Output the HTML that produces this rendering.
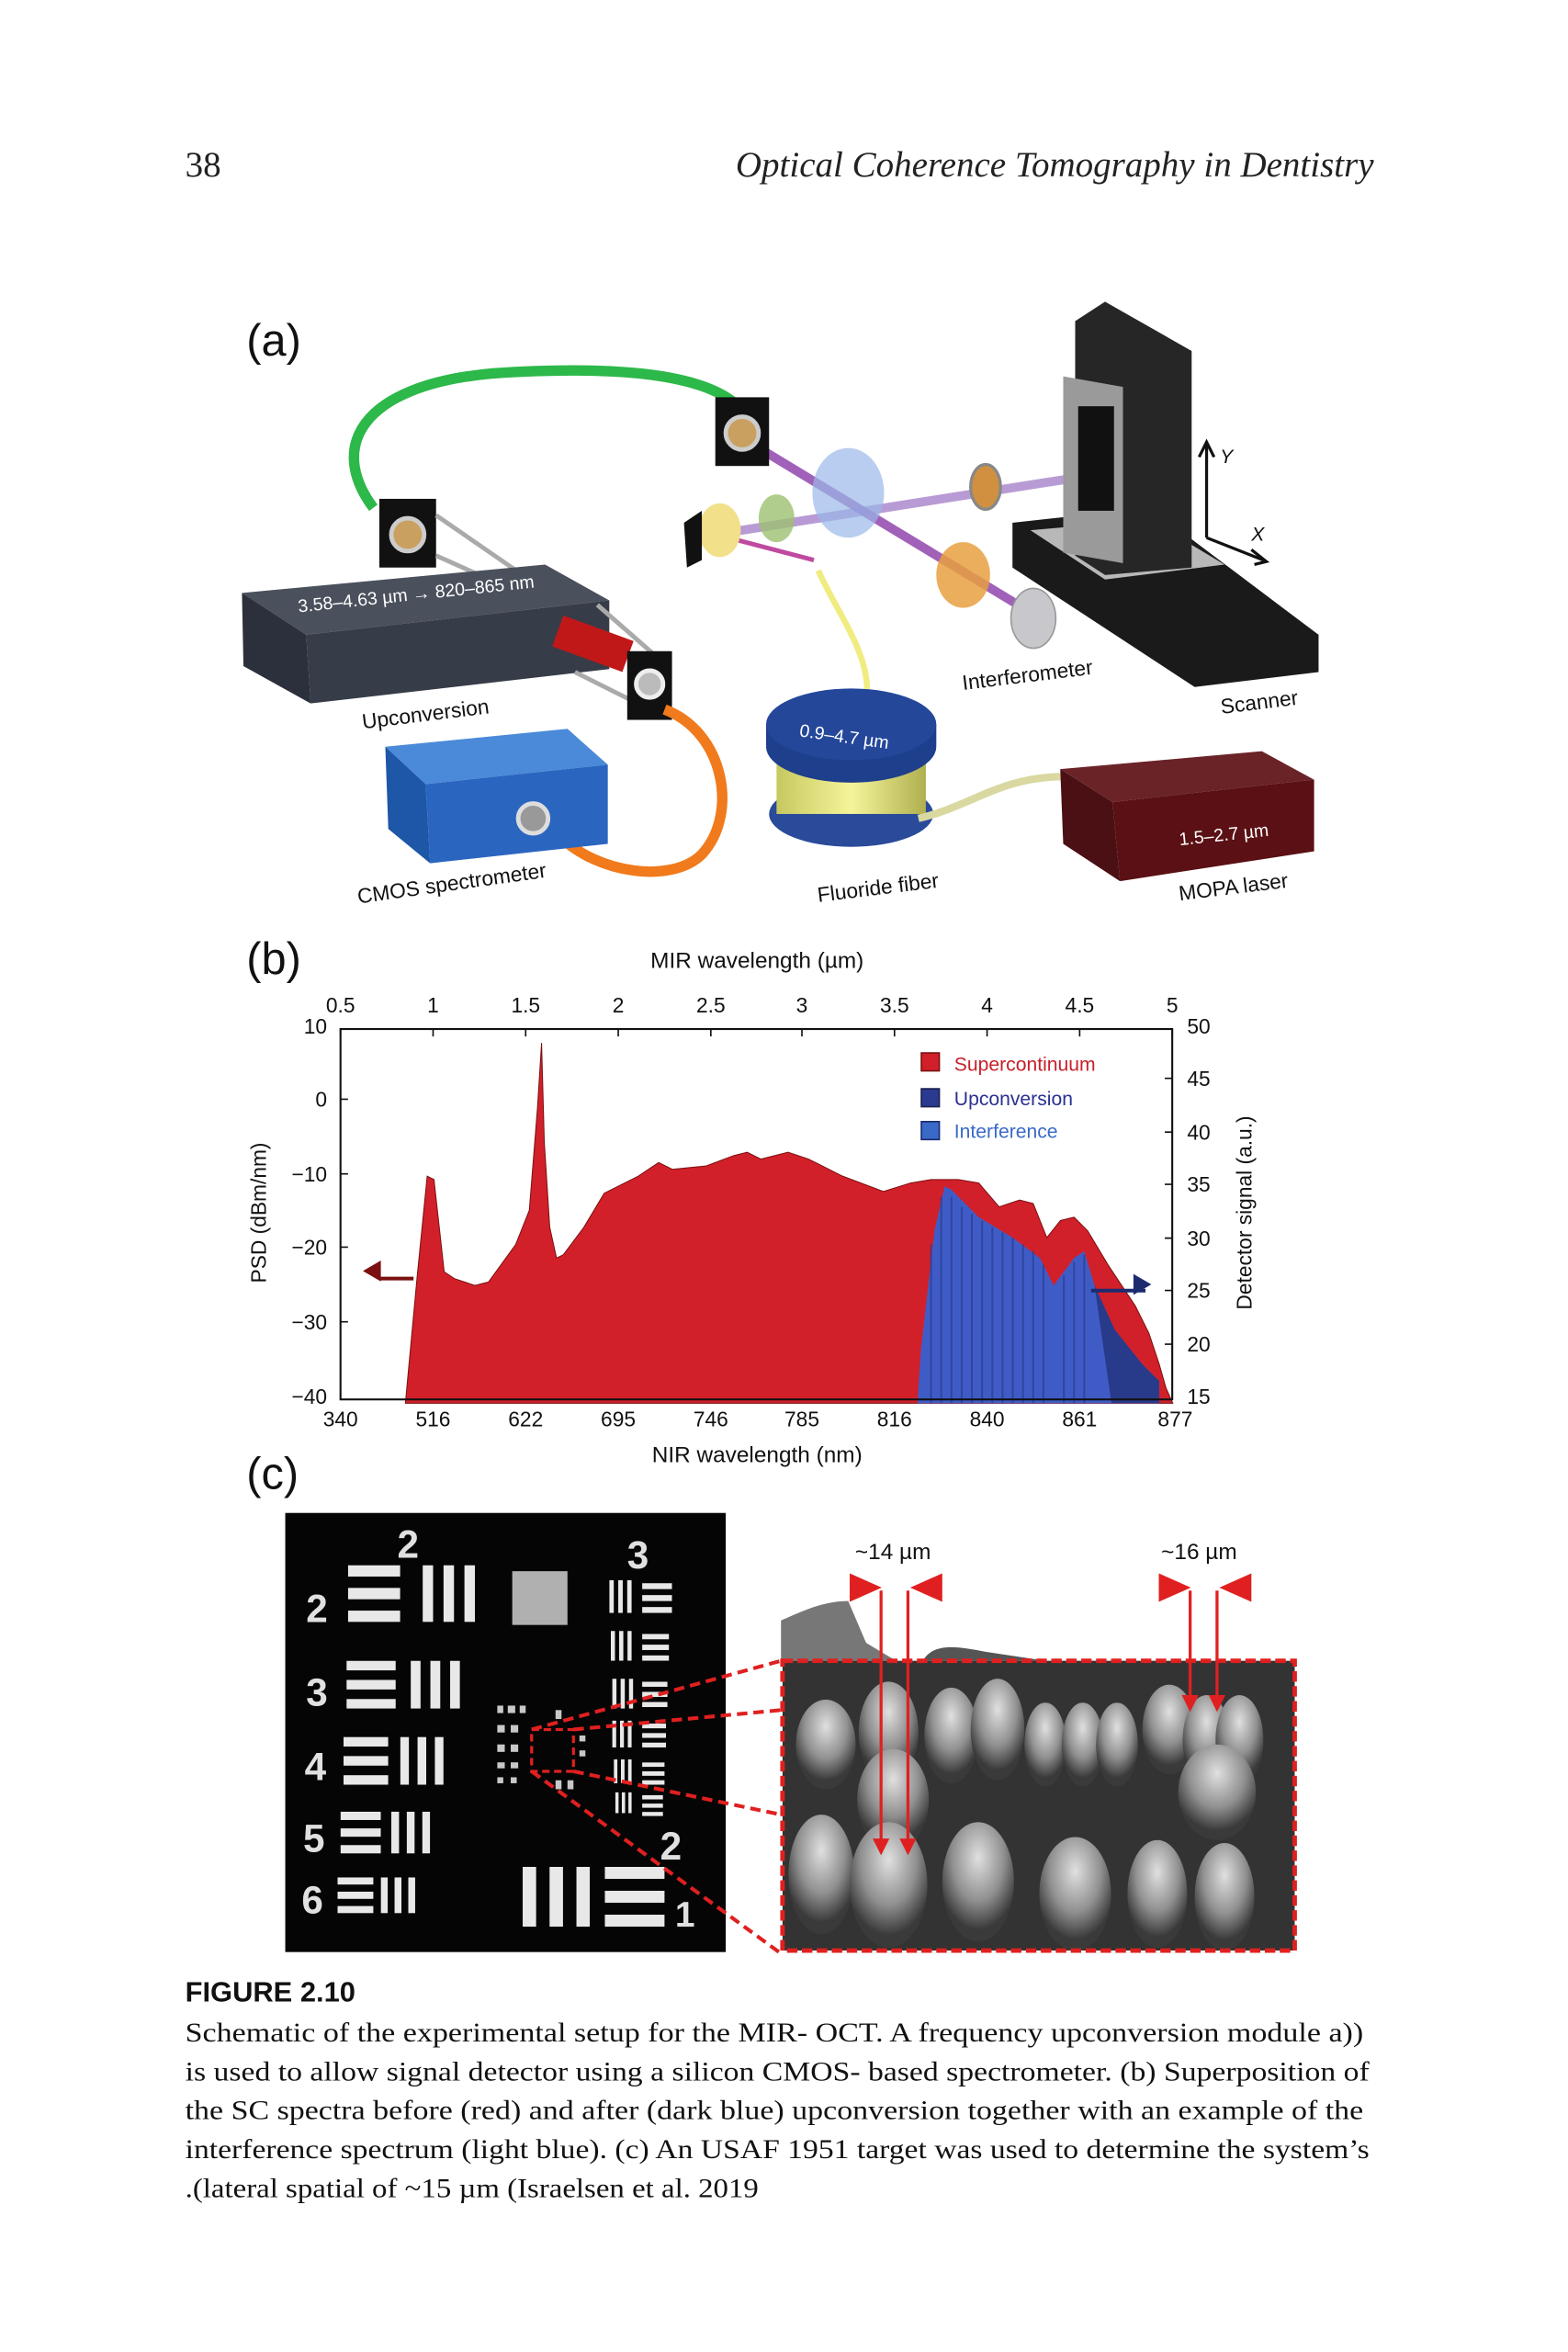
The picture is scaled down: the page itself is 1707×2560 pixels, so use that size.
<!DOCTYPE html>
<html><head><meta charset="utf-8"><style>html,body{margin:0;padding:0;background:#fff}svg{display:block}</style></head>
<body>
<svg width="1707" height="2560" viewBox="0 0 1050 1574.8" xmlns="http://www.w3.org/2000/svg" font-family="Liberation Sans, sans-serif">
<defs>
<symbol id="hb" viewBox="0 0 10 10" preserveAspectRatio="none"><rect x="0" y="0" width="10" height="2" fill="#e8e8e8"/><rect x="0" y="4" width="10" height="2" fill="#e8e8e8"/><rect x="0" y="8" width="10" height="2" fill="#e8e8e8"/></symbol>
<symbol id="vb" viewBox="0 0 10 10" preserveAspectRatio="none"><rect x="0" y="0" width="2" height="10" fill="#e8e8e8"/><rect x="4" y="0" width="2" height="10" fill="#e8e8e8"/><rect x="8" y="0" width="2" height="10" fill="#e8e8e8"/></symbol>
<radialGradient id="bump" cx="0.5" cy="0.3" r="0.6"><stop offset="0" stop-color="#e0e0e0"/><stop offset="0.6" stop-color="#909090"/><stop offset="1" stop-color="#3a3a3a"/></radialGradient>
<linearGradient id="spool" x1="0" x2="1"><stop offset="0" stop-color="#c8c860"/><stop offset="0.5" stop-color="#f4f49a"/><stop offset="1" stop-color="#b0b050"/></linearGradient>
</defs>

<text x="124" y="118" font-family="Liberation Serif, serif" font-size="24" fill="#222">38</text>
<text x="920" y="118" text-anchor="end" font-family="Liberation Serif, serif" font-style="italic" font-size="24" fill="#222">Optical Coherence Tomography in Dentistry</text>

<text x="165" y="238" font-size="30" fill="#111">(a)</text>
<path d="M250,340 C220,300 240,258 330,250 C420,244 470,252 492,270" fill="none" stroke="#2db84a" stroke-width="7"/>
<path d="M495,292 L690,410" stroke="#8a3aa8" stroke-width="6" opacity="0.8"/>
<path d="M478,358 L720,320" stroke="#8a5ab8" stroke-width="6" opacity="0.6"/>
<path d="M480,358 L545,375" stroke="#c04aa0" stroke-width="3"/>
<ellipse cx="568" cy="330" rx="24" ry="30" fill="#9ab8e8" opacity="0.7"/>
<ellipse cx="520" cy="347" rx="12" ry="16" fill="#9cc070" opacity="0.8"/>
<ellipse cx="482" cy="355" rx="14" ry="18" fill="#f2e08a"/>
<path d="M458,350 L470,342 L470,375 L460,380 Z" fill="#111"/>
<ellipse cx="645" cy="385" rx="18" ry="22" fill="#e8a040" opacity="0.85"/>
<ellipse cx="660" cy="326" rx="10" ry="15" fill="#d09040" stroke="#888" stroke-width="2"/>
<ellipse cx="692" cy="414" rx="15" ry="20" fill="#c8c8cc" stroke="#999"/>
<rect x="479" y="266" width="36" height="46" fill="#111"/><circle cx="497" cy="290" r="11" fill="#c9a060" stroke="#ccc" stroke-width="3"/>
<rect x="254" y="334" width="38" height="46" fill="#111"/><circle cx="273" cy="358" r="11" fill="#c9a060" stroke="#ccc" stroke-width="3"/>
<line x1="292" y1="345" x2="350" y2="385" stroke="#aaa" stroke-width="3"/><line x1="292" y1="372" x2="350" y2="398" stroke="#aaa" stroke-width="3"/>
<polygon points="162,397 365,378 408,402 205,425" fill="#4a505c"/>
<polygon points="205,425 408,402 408,448 208,471" fill="#363c48"/>
<polygon points="162,397 205,425 208,471 163,446" fill="#2b303c"/>
<text x="200" y="410" font-size="12" fill="#fff" transform="rotate(-6 200 410)">3.58–4.63 µm → 820–865 nm</text>
<rect x="372" y="420" width="50" height="22" fill="#c01818" transform="rotate(20 397 431)"/>
<line x1="400" y1="405" x2="440" y2="440" stroke="#aaa" stroke-width="3"/><line x1="385" y1="450" x2="425" y2="470" stroke="#aaa" stroke-width="3"/>
<rect x="420" y="436" width="30" height="46" fill="#111"/><circle cx="435" cy="458" r="9" fill="#bbb" stroke="#eee" stroke-width="3"/>
<text x="243" y="488" font-size="14" fill="#111" transform="rotate(-7 243 488)">Upconversion</text>
<path d="M445,475 C485,490 495,545 470,572 C450,592 400,585 375,560" fill="none" stroke="#f07a1c" stroke-width="7"/>
<polygon points="258,500 380,488 407,512 285,525" fill="#4a8ad8"/>
<polygon points="285,525 407,512 407,565 288,578" fill="#2a66c0"/>
<polygon points="258,500 285,525 288,578 260,555" fill="#1e56a8"/>
<circle cx="357" cy="548" r="10" fill="#999" stroke="#ddd" stroke-width="3"/>
<text x="240" y="605" font-size="14" fill="#111" transform="rotate(-8 240 605)">CMOS spectrometer</text>
<path d="M548,382 C560,410 585,440 580,470" fill="none" stroke="#f0ec80" stroke-width="4"/>
<ellipse cx="570" cy="545" rx="55" ry="22" fill="#2a4a9a"/>
<rect x="520" y="500" width="100" height="45" fill="url(#spool)"/>
<ellipse cx="570" cy="500" rx="57" ry="24" fill="#1e3f8c"/>
<rect x="513" y="485" width="114" height="14" fill="#1e3f8c"/>
<ellipse cx="570" cy="485" rx="57" ry="24" fill="#24479a"/>
<text x="535" y="493" font-size="12" fill="#fff" transform="rotate(8 535 493)">0.9–4.7 µm</text>
<path d="M615,548 C650,540 670,520 712,520" fill="none" stroke="#d8d8a0" stroke-width="5"/>
<text x="548" y="604" font-size="14" fill="#111" transform="rotate(-7 548 604)">Fluoride fiber</text>
<polygon points="710,515 845,503 880,522 745,537" fill="#6a2428"/>
<polygon points="745,537 880,522 880,570 750,590" fill="#5a1014"/>
<polygon points="710,515 745,537 750,590 712,565" fill="#4a1014"/>
<text x="790" y="566" font-size="12" fill="#fff" transform="rotate(-6 790 566)">1.5–2.7 µm</text>
<text x="790" y="603" font-size="14" fill="#111" transform="rotate(-7 790 603)">MOPA laser</text>
<polygon points="678,350 770,340 883,425 883,450 800,460 678,380" fill="#1a1a1a"/>
<polygon points="690,355 770,348 820,378 740,388" fill="#b8b8b8"/>
<polygon points="720,215 740,202 798,235 798,380 740,385 720,372" fill="#262626"/>
<rect x="712" y="252" width="40" height="118" fill="#9a9a9a" transform="skewY(10)" transform-origin="712 252"/>
<rect x="722" y="272" width="24" height="70" fill="#111"/>
<path d="M808,360 V298 M803,306 L808,296 L813,306 M808,360 L846,375 M838,368 L848,376 L840,378" stroke="#111" stroke-width="2" fill="none"/>
<text x="817" y="310" font-size="13" font-style="italic" fill="#111">Y</text>
<text x="838" y="362" font-size="13" font-style="italic" fill="#111">X</text>
<text x="818" y="478" font-size="14" fill="#111" transform="rotate(-7 818 478)">Scanner</text>
<text x="645" y="462" font-size="14" fill="#111" transform="rotate(-7 645 462)">Interferometer</text>

<text x="165" y="652" font-size="30" fill="#111">(b)</text>
<text x="507" y="648" font-size="15" text-anchor="middle" fill="#111">MIR wavelength (µm)</text>
<g transform="translate(153.8,627.4) scale(0.456,0.2287)">
<polygon fill="#d1202a" stroke="#7a1010" stroke-width="1" vector-effect="non-scaling-stroke" points="258,1365 275,1000 290,700 300,710 315,980 330,1000 360,1020 380,1010 420,900 440,800 452,500 458,310 462,600 470,850 480,940 490,930 520,850 550,750 600,700 630,660 650,680 700,670 740,640 760,630 780,650 800,640 820,630 850,650 900,700 960,745 1000,720 1030,710 1070,710 1100,720 1130,790 1160,770 1180,780 1200,880 1220,830 1240,820 1260,860 1290,960 1330,1080 1350,1160 1365,1250 1375,1320 1385,1365"/>
<polygon fill="#3f5cc6" points="1010,1365 1015,1210 1035,860 1050,730 1060,740 1100,820 1150,880 1190,940 1210,1020 1225,980 1240,940 1255,920 1270,1020 1300,1150 1340,1250 1365,1300 1365,1365"/>
<polygon fill="#283a8a" points="1270,1020 1300,1150 1340,1250 1365,1300 1365,1365 1295,1365"/>
<path d="M1030,1365V900 M1045,1365V760 M1060,1365V760 M1075,1365V790 M1090,1365V810 M1105,1365V830 M1120,1365V850 M1135,1365V865 M1150,1365V880 M1165,1365V900 M1180,1365V920 M1195,1365V960 M1225,1365V990 M1240,1365V950 M1255,1365V930" stroke="#2a3a90" stroke-width="2" vector-effect="non-scaling-stroke" opacity="0.7"/>
<path d="M270,1000 H220" stroke="#7a1010" stroke-width="4" vector-effect="non-scaling-stroke"/>
<path d="M1265,1035 H1345" stroke="#1e2a70" stroke-width="4" vector-effect="non-scaling-stroke"/>
</g>
<polygon points="243,851 255,844 255,858" fill="#7a1010"/>
<polygon points="771,860 759,853 759,867" fill="#1e2a70"/>
<rect x="228" y="689" width="557" height="248" fill="none" stroke="#111" stroke-width="1.3"/>
<g stroke="#111" stroke-width="1">
<path d="M228,689v5M290,689v5M352,689v5M414,689v5M476,689v5M537,689v5M599,689v5M661,689v5M723,689v5M785,689v5"/>
<path d="M228,736h5M228,786h5M228,835h5M228,885h5M785,722h-5M785,758h-5M785,793h-5M785,829h-5M785,864h-5M785,900h-5"/>
</g>
<g font-size="14" fill="#111" text-anchor="middle">
<text x="228" y="678">0.5</text><text x="290" y="678">1</text><text x="352" y="678">1.5</text><text x="414" y="678">2</text><text x="476" y="678">2.5</text><text x="537" y="678">3</text><text x="599" y="678">3.5</text><text x="661" y="678">4</text><text x="723" y="678">4.5</text><text x="785" y="678">5</text>
<text x="228" y="955">340</text><text x="290" y="955">516</text><text x="352" y="955">622</text><text x="414" y="955">695</text><text x="476" y="955">746</text><text x="537" y="955">785</text><text x="599" y="955">816</text><text x="661" y="955">840</text><text x="723" y="955">861</text><text x="787" y="955">877</text>
</g>
<g font-size="14" fill="#111" text-anchor="end">
<text x="219" y="692">10</text><text x="219" y="741">0</text><text x="219" y="791">−10</text><text x="219" y="840">−20</text><text x="219" y="890">−30</text><text x="219" y="940">−40</text>
</g>
<g font-size="14" fill="#111">
<text x="795" y="692">50</text><text x="795" y="727">45</text><text x="795" y="763">40</text><text x="795" y="798">35</text><text x="795" y="834">30</text><text x="795" y="869">25</text><text x="795" y="905">20</text><text x="795" y="940">15</text>
</g>
<text transform="translate(178,812) rotate(-90)" font-size="14" text-anchor="middle" fill="#111">PSD (dBm/nm)</text>
<text transform="translate(838,812) rotate(-90)" font-size="14" text-anchor="middle" fill="#111">Detector signal (a.u.)</text>
<text x="507" y="979" font-size="15" text-anchor="middle" fill="#111">NIR wavelength (nm)</text>
<rect x="617" y="705" width="12" height="12" fill="#d1202a" stroke="#7a1010"/><text x="639" y="717" font-size="13" fill="#c8202a">Supercontinuum</text>
<rect x="617" y="729" width="12" height="12" fill="#2a3a90" stroke="#1a2050"/><text x="639" y="740" font-size="13" fill="#2a3090">Upconversion</text>
<rect x="617" y="751" width="12" height="12" fill="#3a6ac8" stroke="#1a2a70"/><text x="639" y="762" font-size="13" fill="#3a6ac8">Interference</text>

<text x="165" y="997" font-size="30" fill="#111">(c)</text>
<rect x="191" y="1013" width="295" height="294" fill="#050505"/>
<g font-size="26" font-weight="bold" fill="#e0e0e0">
<text x="266" y="1043">2</text><text x="420" y="1050">3</text>
<text x="205" y="1086">2</text><text x="205" y="1142">3</text><text x="204" y="1192">4</text><text x="203" y="1240">5</text><text x="202" y="1281">6</text>
<text x="442" y="1245">2</text><text x="452" y="1290" font-size="24">1</text>
</g>
<use href="#hb" x="233" y="1048" width="35" height="38"/><use href="#vb" x="283" y="1048" width="35" height="38"/>
<use href="#hb" x="232" y="1112" width="33" height="32"/><use href="#vb" x="275" y="1112" width="33" height="32"/>
<use href="#hb" x="230" y="1163" width="30" height="32"/><use href="#vb" x="268" y="1163" width="29" height="32"/>
<use href="#hb" x="228" y="1213" width="27" height="28"/><use href="#vb" x="262" y="1213" width="26" height="28"/>
<use href="#hb" x="226" y="1257" width="24" height="24"/><use href="#vb" x="255" y="1257" width="23" height="24"/>
<rect x="343" y="1052" width="37" height="36" fill="#b0b0b0"/>
<use href="#vb" x="408" y="1058" width="15" height="22"/><use href="#hb" x="430" y="1060" width="20" height="20"/>
<use href="#vb" x="409" y="1092" width="14" height="20"/><use href="#hb" x="430" y="1094" width="18" height="18"/>
<use href="#vb" x="410" y="1124" width="14" height="20"/><use href="#hb" x="430" y="1126" width="17" height="17"/>
<use href="#vb" x="410" y="1152" width="13" height="18"/><use href="#hb" x="430" y="1154" width="16" height="16"/>
<use href="#vb" x="411" y="1178" width="12" height="16"/><use href="#hb" x="430" y="1180" width="15" height="15"/>
<use href="#vb" x="412" y="1200" width="11" height="14"/><use href="#hb" x="430" y="1202" width="14" height="14"/>
<use href="#vb" x="350" y="1250" width="45" height="40"/><use href="#hb" x="405" y="1250" width="40" height="40"/>
<g fill="#c8c8c8"><rect x="333" y="1142" width="4" height="5"/><rect x="340" y="1142" width="5" height="5"/><rect x="348" y="1142" width="4" height="5"/><rect x="333" y="1155" width="5" height="5"/><rect x="342" y="1155" width="5" height="5"/><rect x="333" y="1168" width="5" height="5"/><rect x="342" y="1168" width="5" height="5"/><rect x="333" y="1180" width="5" height="4"/><rect x="342" y="1180" width="5" height="4"/><rect x="333" y="1190" width="4" height="4"/><rect x="342" y="1190" width="4" height="4"/><rect x="372" y="1145" width="4" height="6"/><rect x="388" y="1162" width="4" height="4"/><rect x="388" y="1172" width="4" height="4"/><rect x="372" y="1192" width="4" height="6"/><rect x="380" y="1192" width="4" height="6"/></g>
<rect x="356" y="1158" width="28" height="28" fill="none" stroke="#e02020" stroke-width="2" stroke-dasharray="5,3"/>
<g stroke="#e02020" stroke-width="2.5" stroke-dasharray="7,4" fill="none">
<path d="M356,1158 L523,1112 M384,1158 L523,1145 M384,1186 L523,1215 M356,1186 L523,1308"/>
</g>
<path d="M523,1112 V1085 C535,1080 550,1072 568,1072 L580,1100 L600,1112 Z" fill="#777"/>
<path d="M618,1112 C625,1100 640,1102 660,1106 L700,1112 Z" fill="#555"/>
<rect x="524" y="1112" width="343" height="194" fill="#333"/>
<g fill="url(#bump)">
<ellipse cx="553" cy="1168" rx="20" ry="30"/><ellipse cx="595" cy="1160" rx="20" ry="34"/><ellipse cx="637" cy="1162" rx="18" ry="32"/><ellipse cx="668" cy="1158" rx="18" ry="34"/><ellipse cx="700" cy="1168" rx="14" ry="28"/><ellipse cx="725" cy="1168" rx="14" ry="28"/><ellipse cx="748" cy="1168" rx="14" ry="28"/><ellipse cx="783" cy="1158" rx="18" ry="30"/><ellipse cx="808" cy="1165" rx="16" ry="30"/><ellipse cx="830" cy="1165" rx="16" ry="30"/>
<ellipse cx="598" cy="1205" rx="24" ry="34"/><ellipse cx="815" cy="1200" rx="26" ry="32"/>
<ellipse cx="550" cy="1255" rx="22" ry="40"/><ellipse cx="595" cy="1262" rx="26" ry="42"/><ellipse cx="655" cy="1260" rx="24" ry="40"/><ellipse cx="720" cy="1268" rx="24" ry="38"/><ellipse cx="775" cy="1268" rx="20" ry="36"/><ellipse cx="820" cy="1270" rx="20" ry="36"/>
</g>
<rect x="524" y="1112" width="343" height="194" fill="none" stroke="#e02020" stroke-width="3" stroke-dasharray="7,3"/>
<g stroke="#e02020" stroke-width="2" fill="#e02020">
<path d="M590,1065 V1232 M608,1065 V1232 M797,1065 V1138 M815,1065 V1138" fill="none"/>
<polygon points="586,1232 594,1232 590,1240"/><polygon points="604,1232 612,1232 608,1240"/>
<polygon points="793,1136 801,1136 797,1144"/><polygon points="811,1136 819,1136 815,1144"/>
<polygon points="570,1055 588,1063 570,1071"/><polygon points="630,1055 612,1063 630,1071"/>
<polygon points="777,1055 795,1063 777,1071"/><polygon points="837,1055 819,1063 837,1071"/>
</g>
<text x="598" y="1044" font-size="15" text-anchor="middle" fill="#111">~14 µm</text>
<text x="803" y="1044" font-size="15" text-anchor="middle" fill="#111">~16 µm</text>

<text x="124" y="1340" font-size="19" font-weight="bold" fill="#111">FIGURE 2.10</text>
<g font-family="Liberation Serif, serif" font-size="18.5" fill="#111">
<text x="124" y="1367" textLength="789" lengthAdjust="spacingAndGlyphs">Schematic of the experimental setup for the MIR- OCT. A frequency upconversion module  a))</text>
<text x="124" y="1393" textLength="793" lengthAdjust="spacingAndGlyphs">is used to allow signal detector using a silicon CMOS- based spectrometer. (b) Superposition of</text>
<text x="124" y="1419" textLength="789" lengthAdjust="spacingAndGlyphs">the SC spectra before (red) and after (dark blue) upconversion together with an example of the</text>
<text x="124" y="1445" textLength="793" lengthAdjust="spacingAndGlyphs">interference spectrum (light blue). (c) An USAF 1951 target was used to determine the system’s</text>
<text x="124" y="1471" textLength="384" lengthAdjust="spacingAndGlyphs">.(lateral spatial of ~15 µm (Israelsen et al. 2019</text>
</g>
</svg>
</body></html>
